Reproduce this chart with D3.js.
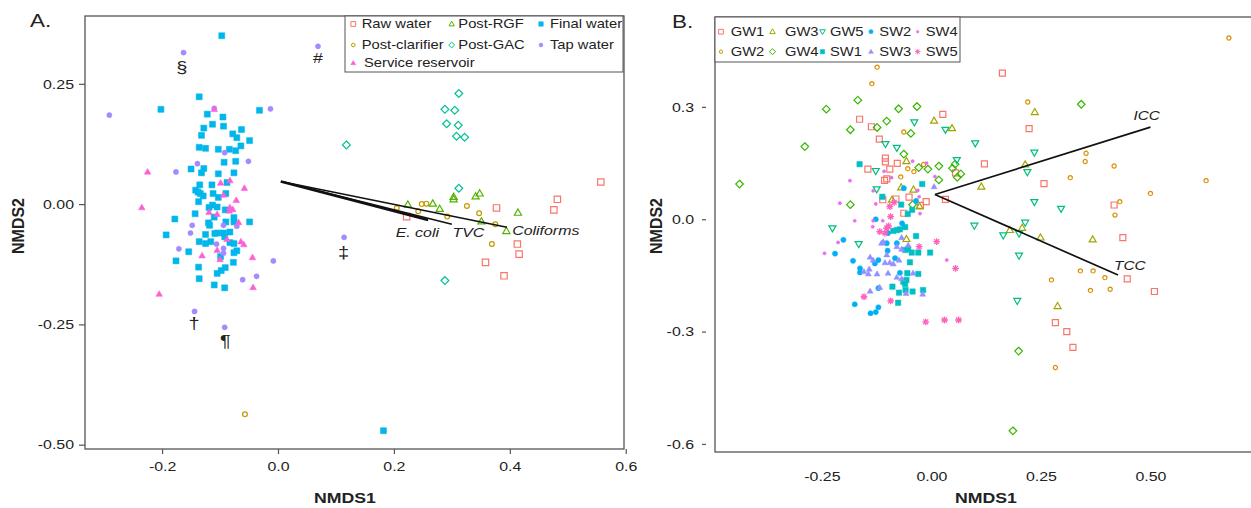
<!DOCTYPE html>
<html>
<head>
<meta charset="utf-8">
<script src="https://cdn.jsdelivr.net/npm/d3@7"></script>
<style>
  body { margin: 0; background: #fff; }
  svg text { font-family: "Liberation Sans", Arial, sans-serif; fill: #222; }
</style>
</head>
<body>
<svg id="chart" width="1251" height="508"></svg>
<script>
// ---------- panel A data (NMDS1, NMDS2) ----------
const groupsA = ["Raw water", "Post-clarifier", "Post-RGF", "Post-GAC", "Final water", "Tap water", "Service reservoir"];
const rawWater = [[0.557,0.046],[0.482,0.010],[0.476,-0.012],[0.377,-0.008],[0.222,-0.026],[0.413,-0.083],[0.416,-0.104],[0.358,-0.121],[0.390,-0.149]];
const postClarifier = [[0.205,-0.008],[0.242,-0.015],[0.248,0.000],[0.256,0.001],[0.292,-0.026],[0.326,-0.004],[0.347,-0.019],[0.375,-0.042],[0.369,-0.083],[-0.057,-0.437]];
const postRGF = [[0.224,-0.001],[0.267,0.001],[0.279,-0.010],[0.303,0.015],[0.303,0.010],[0.341,0.016],[0.348,0.022],[0.351,-0.036],[0.414,-0.018],[0.394,-0.056]];
const postGAC = [[0.312,0.230],[0.288,0.197],[0.305,0.195],[0.291,0.167],[0.311,0.164],[0.308,0.141],[0.322,0.139],[0.312,0.033],[0.118,0.123],[0.288,-0.159]];
const finalWater = [[-0.097,0.350],[-0.136,0.223],[-0.202,0.197],[-0.032,0.195],[-0.122,0.187],[-0.095,0.181],[-0.113,0.166],[-0.128,0.158],[-0.094,0.162],[-0.063,0.155],[-0.078,0.146],[-0.071,0.138],[-0.132,0.143],[-0.049,0.132],[-0.136,0.118],[-0.125,0.116],[-0.103,0.114],[-0.084,0.114],[-0.073,0.111],[-0.064,0.121],[-0.093,0.087],[-0.073,0.089],[-0.128,0.074],[-0.150,0.073],[-0.132,0.065],[-0.103,0.063],[-0.076,0.065],[-0.135,0.040],[-0.114,0.040],[-0.088,0.045],[-0.142,0.029],[-0.138,0.025],[-0.112,0.022],[-0.090,0.022],[-0.134,0.022],[-0.129,0.017],[-0.103,0.014],[-0.137,0.005],[-0.119,-0.007],[-0.113,-0.002],[-0.105,-0.006],[-0.091,-0.012],[-0.143,-0.020],[-0.110,-0.027],[-0.076,-0.028],[-0.076,-0.037],[-0.178,-0.031],[-0.049,-0.037],[-0.090,-0.037],[-0.120,-0.039],[-0.118,-0.044],[-0.193,-0.064],[-0.125,-0.063],[-0.109,-0.061],[-0.104,-0.060],[-0.094,-0.060],[-0.083,-0.058],[-0.092,-0.068],[-0.136,-0.078],[-0.125,-0.082],[-0.116,-0.078],[-0.083,-0.080],[-0.076,-0.082],[-0.071,-0.097],[-0.076,-0.101],[-0.154,-0.099],[-0.099,-0.109],[-0.176,-0.118],[-0.077,-0.121],[-0.137,-0.131],[-0.091,-0.132],[-0.098,-0.138],[-0.105,-0.144],[-0.136,-0.155],[-0.110,-0.168],[-0.092,-0.174],[0.182,-0.471]];
const tapWater = [[-0.163,0.315],[-0.291,0.185],[-0.110,0.199],[-0.013,0.198],[-0.092,0.107],[-0.051,0.089],[-0.139,0.084],[-0.176,0.067],[-0.148,-0.044],[-0.094,-0.044],[-0.071,-0.046],[-0.151,-0.060],[-0.106,-0.083],[-0.171,-0.093],[-0.094,-0.092],[-0.094,-0.102],[-0.008,-0.118],[-0.037,-0.150],[-0.061,-0.157],[-0.144,-0.223],[-0.092,-0.256],[0.069,0.328],[0.114,-0.069]];
const serviceReservoir = [[-0.110,0.197],[-0.225,0.067],[-0.099,0.044],[-0.083,0.049],[-0.058,0.033],[-0.094,0.019],[-0.072,0.008],[-0.235,-0.007],[-0.083,-0.007],[-0.084,-0.014],[-0.078,-0.011],[-0.119,-0.017],[-0.105,-0.021],[-0.068,-0.038],[-0.088,-0.073],[-0.064,-0.078],[-0.059,-0.084],[-0.105,-0.096],[-0.131,-0.107],[-0.100,-0.115],[-0.044,-0.111],[-0.043,-0.173],[-0.205,-0.187]];
const notesA = [["§",-0.166,0.285],["#",0.069,0.305],["‡",0.113,-0.100],["†",-0.145,-0.248],["¶",-0.091,-0.284]];
const vectorOriginA = [0.005, 0.047];
const vectorNamesA = ["E. coli", "TVC", "Coliforms"];
const vectorEndsA = [[0.259,-0.033],[0.300,-0.042],[0.395,-0.048]];
const vectorLabelsA = [[0.203,-0.068],[0.301,-0.068],[0.404,-0.065]];
const xTicksA = [-0.2, 0, 0.2, 0.4, 0.6];
const xTickLabelsA = ["-0.2", "0.0", "0.2", "0.4", "0.6"];
const yTicksA = [-0.5, -0.25, 0, 0.25];
const yTickLabelsA = ["-0.50", "-0.25", "0.00", "0.25"];

// ---------- panel B data ----------
const groupsB = ["GW1","GW2","GW3","GW4","GW5","SW1","SW2","SW3","SW4","SW5"];
const gw1 = [[0.162,0.390],[0.026,0.280],[0.223,0.242],[0.121,0.148],[0.055,0.124],[0.257,0.095],[0.032,0.053],[0.417,0.038],[0.437,-0.049],[0.447,-0.159],[0.509,-0.193],[0.283,-0.276],[0.309,-0.300],[0.323,-0.342],[-0.164,0.267],[-0.137,0.247],[-0.119,0.214],[-0.105,0.163],[-0.105,0.153],[-0.078,0.149],[-0.145,0.134],[-0.095,0.134],[-0.102,0.108],[-0.107,0.104],[-0.111,0.052],[-0.051,0.059],[-0.081,0.054],[-0.012,0.047],[-0.025,0.037],[-0.063,0.016]];
const gw2 = [[0.679,0.484],[0.220,0.313],[0.353,0.176],[0.351,0.154],[0.417,0.142],[0.317,0.111],[0.627,0.103],[0.500,0.069],[0.430,0.047],[0.419,0.011],[0.340,-0.138],[0.369,-0.138],[0.396,-0.156],[0.274,-0.162],[0.363,-0.190],[0.408,-0.187],[0.283,-0.396],[-0.124,0.406],[-0.136,0.362],[-0.063,0.233],[-0.054,0.135],[-0.018,0.146],[-0.040,0.127],[-0.070,0.113]];
const gw3 = [[0.236,0.286],[0.047,0.243],[0.006,0.263],[0.214,0.146],[0.114,0.087],[0.207,-0.023],[0.179,-0.029],[0.249,-0.049],[0.368,-0.054],[0.288,-0.232],[-0.057,0.155],[-0.069,0.085],[-0.041,0.079],[-0.090,0.052],[-0.027,0.034],[-0.057,-0.053]];
const gw4 = [[0.342,0.307],[0.054,0.147],[0.048,0.136],[0.067,0.121],[0.059,0.112],[0.199,-0.352],[0.186,-0.565],[-0.168,0.318],[-0.240,0.294],[-0.075,0.295],[-0.033,0.301],[-0.102,0.262],[-0.185,0.239],[-0.124,0.245],[-0.047,0.229],[-0.289,0.194],[-0.063,0.174],[0.017,0.142],[-0.029,0.138],[-0.008,0.134],[0.017,0.105],[-0.043,0.039],[-0.185,0.039],[-0.438,0.094]];
const gw5 = [[0.032,0.239],[0.100,0.203],[0.235,0.178],[0.219,0.126],[0.058,0.158],[0.235,0.046],[0.296,0.028],[0.098,-0.017],[0.214,-0.009],[0.164,-0.043],[0.200,-0.038],[0.200,-0.097],[0.196,-0.218],[-0.039,0.259],[-0.105,0.201],[-0.079,0.191],[-0.127,0.129],[-0.125,0.080],[-0.226,-0.024],[-0.166,-0.066]];
const sw1 = [[-0.164,0.147],[-0.021,0.094],[-0.112,0.060],[-0.069,0.039],[-0.044,0.025],[-0.054,0.014],[-0.060,-0.021],[-0.072,-0.027],[-0.079,-0.029],[-0.087,-0.031],[-0.035,-0.045],[-0.060,-0.082],[-0.053,-0.080],[-0.045,-0.089],[-0.030,-0.089],[-0.003,-0.089],[-0.049,-0.115],[-0.055,-0.144],[-0.030,-0.146],[-0.064,-0.167],[-0.057,-0.162],[-0.060,-0.173],[-0.089,-0.180],[-0.074,-0.196],[-0.059,-0.189],[-0.043,-0.193],[-0.019,-0.189],[-0.076,-0.223]];
const sw2 = [[-0.063,0.083],[-0.035,0.049],[-0.127,0.000],[-0.067,-0.011],[-0.099,-0.037],[-0.201,-0.055],[-0.102,-0.064],[-0.079,-0.064],[-0.100,-0.084],[-0.220,-0.092],[-0.121,-0.109],[-0.129,-0.118],[-0.083,-0.104],[-0.179,-0.111],[-0.163,-0.131],[-0.163,-0.142],[-0.072,-0.143],[-0.121,-0.184],[-0.175,-0.227],[-0.121,-0.235],[-0.127,-0.248],[-0.139,-0.251]];
const sw3 = [[0.006,0.087],[-0.068,-0.049],[-0.114,-0.064],[-0.110,-0.060],[-0.079,-0.073],[-0.068,-0.080],[-0.053,-0.069],[-0.102,-0.095],[-0.140,-0.101],[-0.133,-0.109],[-0.106,-0.116],[-0.095,-0.116],[-0.087,-0.119],[-0.074,-0.109],[-0.142,-0.133],[-0.154,-0.140],[-0.144,-0.146],[-0.124,-0.146],[-0.099,-0.144],[-0.042,-0.144],[-0.079,-0.155],[-0.068,-0.159],[-0.058,-0.198],[-0.020,-0.200],[-0.118,-0.182],[-0.140,-0.192]];
const sw4 = [[-0.043,0.155],[-0.011,0.150],[-0.108,0.128],[-0.091,0.111],[0.008,0.114],[-0.186,0.103],[-0.133,0.076],[-0.031,0.077],[-0.028,0.060],[-0.127,0.041],[-0.209,0.043],[-0.026,0.015],[-0.175,-0.004],[-0.133,-0.004],[-0.111,-0.004],[-0.134,-0.020],[-0.213,-0.062],[-0.244,-0.091],[0.035,-0.109]];
const sw5 = [[-0.085,0.045],[-0.095,0.034],[-0.093,0.007],[-0.098,-0.018],[-0.102,-0.024],[-0.118,-0.033],[-0.106,-0.037],[-0.028,-0.073],[0.012,-0.060],[0.055,-0.131],[-0.154,-0.207],[-0.093,-0.218],[-0.013,-0.274],[0.030,-0.269],[0.062,-0.269]];
const vectorOriginB = [0.008, 0.066];
const vectorNamesB = ["ICC", "TCC"];
const vectorEndsB = [[0.500,0.246],[0.426,-0.149]];
const vectorLabelsB = [[0.461,0.265],[0.417,-0.135]];
const xTicksB = [-0.25, 0, 0.25, 0.5];
const xTickLabelsB = ["-0.25", "0.00", "0.25", "0.50"];
const yTicksB = [-0.6, -0.3, 0, 0.3];
const yTickLabelsB = ["-0.6", "-0.3", "0.0", "0.3"];

// ---------- styles ----------
const colorsA = ["#F8766D","#C49A00","#53B400","#00C094","#00B6EB","#A58AFF","#FB61D7"];
const shapesA = ["square","circle","triangle","diamond","square","circle","triangle"];
const filledA = [false,false,false,false,true,true,true];
const sizesA = [3.2,2.4,3.6,3.9,3.0,2.6,3.3];
const colorsB = ["#F8766D","#D89000","#A3A500","#39B600","#00BF7D","#00BFC4","#00B0F6","#9590FF","#E76BF3","#FF62BC"];
const shapesB = ["square","circle","triangle","diamond","down","square","circle","triangle","circle","star"];
const filledB = [false,false,false,false,false,true,true,true,true,false];
const sizesB = [3.0,2.1,3.5,3.8,3.5,2.7,2.6,3.0,1.6,3.4];

const SX = 1.18; // source figure is stretched horizontally

function shapePath(type, r) {
  if (type === "square") return `M${-r},${-r}h${2*r}v${2*r}h${-2*r}Z`;
  if (type === "circle") return `M${r},0A${r},${r} 0 1,1 ${-r},0A${r},${r} 0 1,1 ${r},0Z`;
  if (type === "triangle") { const h = r * 1.732; return `M0,${-h*0.6}L${r},${h*0.4}L${-r},${h*0.4}Z`; }
  if (type === "down") { const h = r * 1.732; return `M0,${h*0.6}L${r},${-h*0.4}L${-r},${-h*0.4}Z`; }
  if (type === "diamond") return `M0,${-r}L${r},0L0,${r}L${-r},0Z`;
  const d = r * 0.72;
  return `M${-r},0H${r}M0,${-r}V${r}M${-d},${-d}L${d},${d}M${-d},${d}L${d},${-d}`;
}

function drawMarks(g, data, x, y, shape, r, filled, color) {
  g.append("g").selectAll("path")
    .data(data)
    .join("path")
    .attr("transform", d => `translate(${x(d[0])},${y(d[1])})`)
    .attr("d", shapePath(shape, r))
    .attr("fill", filled && shape !== "star" ? color : "none")
    .attr("stroke", color)
    .attr("stroke-width", shape === "star" ? 1.3 : (filled ? 0.5 : 1.2));
}

function label(g, x, y, str, size, o = {}) {
  const t = g.append("text")
    .attr("transform", `translate(${x},${y}) scale(${SX},1)`)
    .attr("font-size", size)
    .attr("text-anchor", o.anchor || "start")
    .text(str);
  if (o.weight) t.attr("font-weight", o.weight);
  if (o.italic) t.attr("font-style", "italic");
  if (o.dy) t.attr("dy", o.dy);
  return t;
}

function styleAxis(g, size, left) {
  g.select(".domain").remove();
  g.selectAll(".tick line").attr("stroke", "#555").attr("stroke-width", 1.2);
  g.selectAll(".tick text")
    .attr("font-size", size)
    .attr("fill", "#333")
    .attr("transform", `scale(${SX},1)`);
  if (left) g.selectAll(".tick text").attr("x", function () { return +d3.select(this).attr("x") / SX; });
}

const svg = d3.select("#chart");

// ================= Panel A =================
const xA = d3.scaleLinear().domain([-0.333, 0.597]).range([85, 624]);
const yA = d3.scaleLinear().domain([-0.509, 0.391]).range([449, 16]);
const gA = svg.append("g");

gA.append("g").attr("transform", "translate(0,449)")
  .call(d3.axisBottom(xA).tickValues(xTicksA).tickFormat((d, i) => xTickLabelsA[i]).tickSize(5).tickPadding(7))
  .call(g => styleAxis(g, 13.5, false));
gA.append("g").attr("transform", "translate(85,0)")
  .call(d3.axisLeft(yA).tickValues(yTicksA).tickFormat((d, i) => yTickLabelsA[i]).tickSize(6).tickPadding(5))
  .call(g => styleAxis(g, 13.5, true));

const seriesA = [rawWater, postClarifier, postRGF, postGAC, finalWater, tapWater, serviceReservoir];
seriesA.forEach((data, i) => drawMarks(gA, data, xA, yA, shapesA[i], sizesA[i], filledA[i], colorsA[i]));

// environmental vectors
vectorEndsA.forEach((e, i) => {
  gA.append("line")
    .attr("x1", xA(vectorOriginA[0])).attr("y1", yA(vectorOriginA[1]))
    .attr("x2", xA(e[0])).attr("y2", yA(e[1]))
    .attr("stroke", "#111").attr("stroke-width", i === 0 ? 2.4 : 1.6);
  label(gA, xA(vectorLabelsA[i][0]), yA(vectorLabelsA[i][1]), vectorNamesA[i], 13.5, { italic: true });
});

notesA.forEach(n => label(gA, xA(n[1]), yA(n[2]), n[0], n[0] === "#" ? 15 : 17, { anchor: "middle", dy: "0.35em" }));

gA.append("rect").attr("x", 85).attr("y", 16).attr("width", 539).attr("height", 433)
  .attr("fill", "none").attr("stroke", "#555").attr("stroke-width", 1.3);

// legend A
const legA = gA.append("g");
legA.append("rect").attr("x", 345).attr("y", 16).attr("width", 278).attr("height", 56)
  .attr("fill", "#fff").attr("stroke", "#555").attr("stroke-width", 1);
const legSymXA = [353.3, 451.7, 541], legTxtXA = [361.7, 458.3, 550], legRowYA = [24, 45, 63];
groupsA.forEach((name, i) => {
  const col = i < 6 ? Math.floor(i / 2) : 0;
  const row = i < 6 ? i % 2 : 2;
  const sx = legSymXA[col], sy = legRowYA[row];
  legA.append("path")
    .attr("transform", `translate(${sx},${sy})`)
    .attr("d", shapePath(shapesA[i], sizesA[i] * 0.75))
    .attr("fill", filledA[i] ? colorsA[i] : "none")
    .attr("stroke", colorsA[i]).attr("stroke-width", filledA[i] ? 0.5 : 1);
  label(legA, i === 6 ? 364 : legTxtXA[col], sy, name, 12.5, { dy: "0.35em" });
});

label(gA, 30, 27, "A.", 19);
label(gA, 345, 503, "NMDS1", 15, { anchor: "middle", weight: "bold" });
gA.append("text").attr("transform", "translate(24,226) rotate(-90) scale(1.1,1.1)")
  .attr("text-anchor", "middle").attr("font-size", 14.5).attr("font-weight", "bold").text("NMDS2");

// ================= Panel B =================
const xB = d3.scaleLinear().domain([-0.494, 0.7546]).range([715, 1262]);
const yB = d3.scaleLinear().domain([-0.6215, 0.540]).range([452, 17]);
const gB = svg.append("g");

gB.append("g").attr("transform", "translate(0,452)")
  .call(d3.axisBottom(xB).tickValues(xTicksB).tickFormat((d, i) => xTickLabelsB[i]).tickSize(0).tickPadding(19))
  .call(g => styleAxis(g, 13.5, false));
gB.append("g").attr("transform", "translate(706,0)")
  .call(d3.axisLeft(yB).tickValues(yTicksB).tickFormat((d, i) => yTickLabelsB[i]).tickSize(4).tickPadding(8))
  .call(g => styleAxis(g, 13.5, true));

const seriesB = [gw1, gw2, gw3, gw4, gw5, sw1, sw2, sw3, sw4, sw5];
seriesB.forEach((data, i) => drawMarks(gB, data, xB, yB, shapesB[i], sizesB[i], filledB[i], colorsB[i]));

vectorEndsB.forEach((e, i) => {
  gB.append("line")
    .attr("x1", xB(vectorOriginB[0])).attr("y1", yB(vectorOriginB[1]))
    .attr("x2", xB(e[0])).attr("y2", yB(e[1]))
    .attr("stroke", "#111").attr("stroke-width", 1.7);
  label(gB, xB(vectorLabelsB[i][0]), yB(vectorLabelsB[i][1]), vectorNamesB[i], 13, { italic: true });
});

gB.append("rect").attr("x", 715).attr("y", 17).attr("width", 560).attr("height", 435)
  .attr("fill", "none").attr("stroke", "#555").attr("stroke-width", 1.3);

// legend B
const legB = gB.append("g");
legB.append("rect").attr("x", 715).attr("y", 17).attr("width", 245).attr("height", 45)
  .attr("fill", "#fff").attr("stroke", "#555").attr("stroke-width", 1);
const legSymXB = [721, 772.5, 822.5, 871, 917.7], legTxtXB = [730.7, 785, 830, 879.3, 925.7], legRowYB = [31.7, 51.7];
groupsB.forEach((name, i) => {
  const col = Math.floor(i / 2), row = i % 2;
  const sx = legSymXB[col], sy = legRowYB[row];
  legB.append("path")
    .attr("transform", `translate(${sx},${sy})`)
    .attr("d", shapePath(shapesB[i], sizesB[i] * 0.8))
    .attr("fill", filledB[i] && shapesB[i] !== "star" ? colorsB[i] : "none")
    .attr("stroke", colorsB[i]).attr("stroke-width", filledB[i] ? 0.5 : 1);
  label(legB, legTxtXB[col], sy, name, 12.5, { dy: "0.35em" });
});

label(gB, 672, 28, "B.", 19);
label(gB, 986, 503, "NMDS1", 15, { anchor: "middle", weight: "bold" });
gB.append("text").attr("transform", "translate(662,226) rotate(-90) scale(1.1,1.1)")
  .attr("text-anchor", "middle").attr("font-size", 14.5).attr("font-weight", "bold").text("NMDS2");
</script>
</body>
</html>
